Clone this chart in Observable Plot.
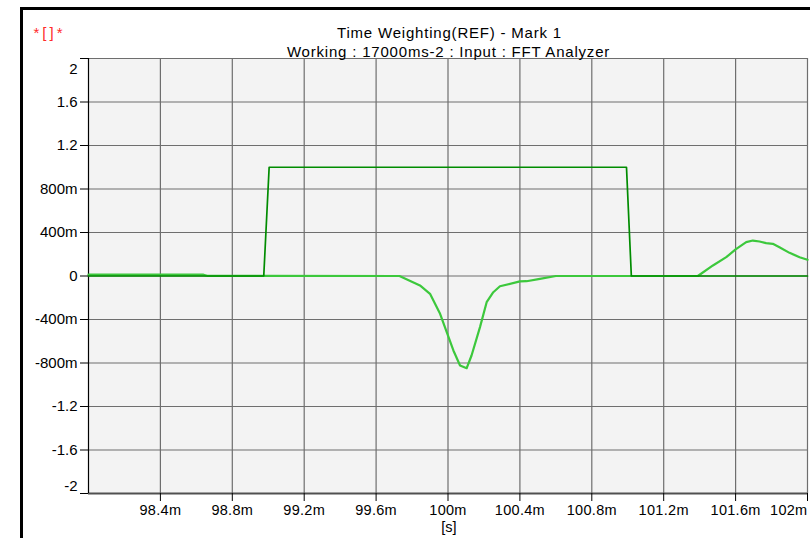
<!DOCTYPE html>
<html>
<head>
<meta charset="utf-8">
<script src="https://cdn.jsdelivr.net/npm/d3@7"></script>
<script src="https://cdn.jsdelivr.net/npm/@observablehq/plot@0.6"></script>
<style>
  body { margin: 0; background: white; }
  #wrap { position: relative; width: 810px; height: 538px; overflow: hidden; }
  #border { position: absolute; left: 20px; top: 7px; right: -4px; bottom: -4px;
            border-left: 3px solid #000; border-top: 3px solid #000; pointer-events: none; }
</style>
</head>
<body>
<div id="wrap"><div id="border"></div></div>
<script>
// ---- data ----
const titleText = "Time Weighting(REF) - Mark 1";
const subtitleText = "Working : 17000ms-2 : Input : FFT Analyzer";
const cornerText = "*[]*";
const xAxisLabel = "[s]";

const xTicks = [98.4, 98.8, 99.2, 99.6, 100, 100.4, 100.8, 101.2, 101.6, 102];
const xTickLabels = ["98.4m", "98.8m", "99.2m", "99.6m", "100m", "100.4m", "100.8m", "101.2m", "101.6m", "102m"];
const yTicks = [2, 1.6, 1.2, 0.8, 0.4, 0, -0.4, -0.8, -1.2, -1.6, -2];
const yTickLabels = ["2", "1.6", "1.2", "800m", "400m", "0", "-400m", "-800m", "-1.2", "-1.6", "-2"];

// time in ms
const pulseTime  = [98.0, 98.975, 99.005, 100.993, 101.02, 102.0];
const pulseValue = [0, 0, 1.0, 1.0, 0, 0];

const responseTime  = [98.0, 98.64, 98.66, 99.73, 99.844, 99.9, 99.956, 99.993, 100.03, 100.067, 100.104, 100.131, 100.178, 100.215, 100.252, 100.289, 100.4, 100.437, 100.511, 100.6, 101.39, 101.474, 101.548, 101.6, 101.659, 101.696, 101.733, 101.77, 101.807, 101.844, 101.9, 101.956, 102.0];
const responseValue = [0.012, 0.012, 0.002, 0, -0.087, -0.164, -0.348, -0.517, -0.685, -0.823, -0.848, -0.731, -0.47, -0.241, -0.149, -0.094, -0.05, -0.048, -0.026, 0, 0, 0.097, 0.173, 0.244, 0.311, 0.326, 0.317, 0.302, 0.296, 0.265, 0.213, 0.173, 0.149];

// ---- tables ----
const pulse = pulseTime.map((t, i) => ({t, v: pulseValue[i]}));
const response = responseTime.map((t, i) => ({t, v: responseValue[i]}));
const fx = d => xTickLabels[xTicks.indexOf(d)];
const fy = d => yTickLabels[yTicks.indexOf(d)];
const yMid = yTicks.filter(d => d !== 2 && d !== -2);
const xMid = xTicks.filter(d => d !== 102);

const font = "'Liberation Sans', Arial, sans-serif";

const chart = Plot.plot({
  width: 810,
  height: 538,
  marginLeft: 88,
  marginRight: 3,
  marginTop: 58,
  marginBottom: 45,
  x: {domain: [98, 102], label: null},
  y: {domain: [-2, 2], label: null},
  style: {fontFamily: font, fontSize: "15px", background: "white", color: "#000", overflow: "visible"},
  marks: [
    Plot.frame({fill: "#f3f3f3", stroke: null}),
    Plot.gridX(xTicks, {stroke: "#6e6e6e", strokeOpacity: 1, strokeWidth: 1.2}),
    Plot.gridY(yTicks, {stroke: "#6e6e6e", strokeOpacity: 1, strokeWidth: 1.2}),
    Plot.ruleY([-2], {stroke: "#505050", strokeWidth: 2}),
    Plot.ruleX([98], {stroke: "#000", strokeWidth: 1.2}),
    Plot.line(response, {x: "t", y: "v", stroke: "#3cc83c", strokeWidth: 2.2}),
    Plot.line(pulse, {x: "t", y: "v", stroke: "#008c00", strokeWidth: 1.7}),
    Plot.axisY({ticks: yTicks, tickSize: 8, tickFormat: () => "", stroke: "#000"}),
    Plot.axisX({ticks: xTicks, tickSize: 8, tickFormat: () => "", stroke: "#000"}),
    Plot.text(yMid, {y: d => d, text: fy, frameAnchor: "left", textAnchor: "end", dx: -11, fill: "#000"}),
    Plot.text([2], {y: d => d, text: fy, frameAnchor: "left", textAnchor: "end", dx: -11, dy: 11, fill: "#000"}),
    Plot.text([-2], {y: d => d, text: fy, frameAnchor: "left", textAnchor: "end", dx: -11, dy: -7, fill: "#000"}),
    Plot.text(xMid, {x: d => d, text: fx, frameAnchor: "bottom", dy: 21, fill: "#000", fontSize: 14.5}),
    Plot.text([102], {x: d => d, text: fx, frameAnchor: "bottom", textAnchor: "end", dy: 21, fill: "#000", fontSize: 14.5}),
    Plot.text([xAxisLabel], {text: d => d, frameAnchor: "bottom", dx: 1, dy: 38, fill: "#000", fontSize: 14.5}),
    Plot.text([titleText], {text: d => d, frameAnchor: "top", dx: 1.5, dy: -31, fill: "#000"}),
    Plot.text([subtitleText], {text: d => d, frameAnchor: "top", dx: 0.5, dy: -12, fill: "#000"}),
    Plot.text([cornerText], {text: d => d, frameAnchor: "top-left", textAnchor: "start", dx: -55, dy: -31, fill: "#ff2a2a"})
  ]
});
// letter spacing tweaks (Plot text has no letterSpacing option)
const spacing = new Map([[titleText, "0.8px"], [subtitleText, "0.8px"], [cornerText, "3px"]]);
d3.select(chart).selectAll("text").each(function() {
  const s = spacing.get(this.textContent);
  if (s) this.style.letterSpacing = s;
  else if (xTickLabels.includes(this.textContent)) this.style.letterSpacing = "0.3px";
});
document.getElementById("wrap").prepend(chart);
</script>
</body>
</html>
